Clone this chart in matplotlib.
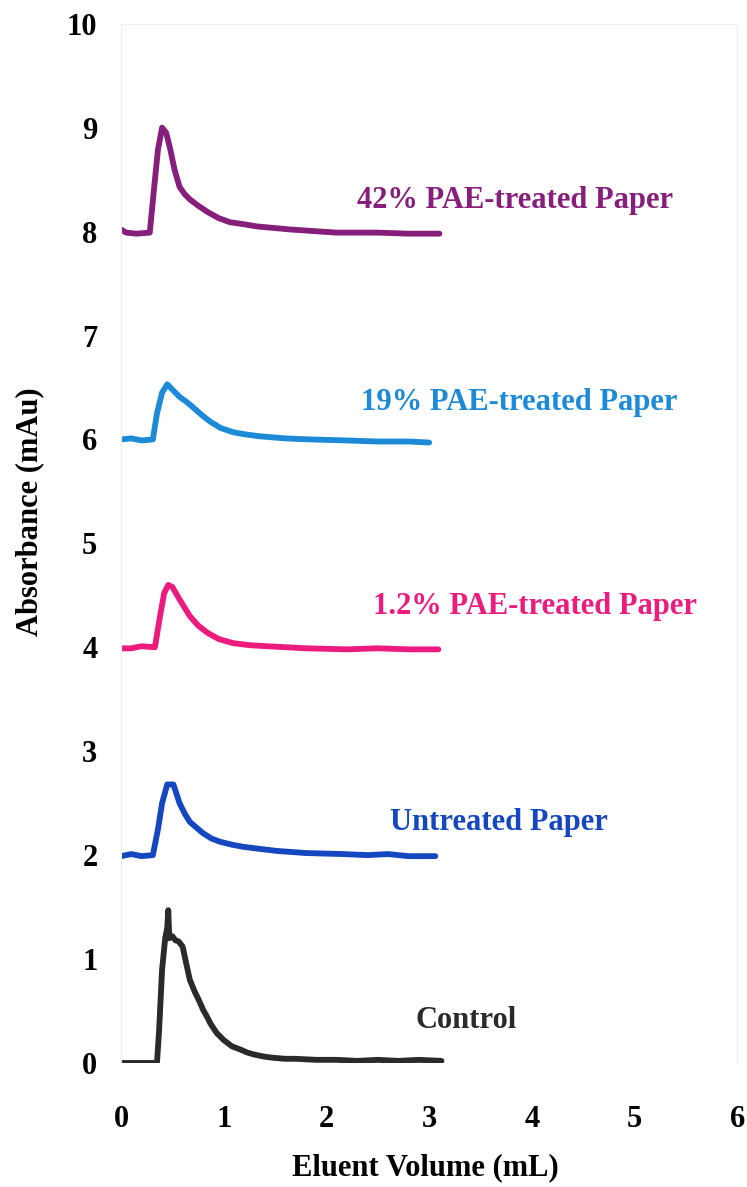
import matplotlib
matplotlib.use("Agg")
import matplotlib.pyplot as plt

plt.rcParams['font.family'] = ['Liberation Serif', 'DejaVu Serif']
plt.rcParams['font.weight'] = 'bold'

# Control
ctrl_x = [0.0, 0.35, 0.37, 0.40, 0.43, 0.45, 0.46, 0.47, 0.50, 0.53, 0.56, 0.60, 0.63,
          0.67, 0.72, 0.76, 0.80, 0.84, 0.87, 0.93, 1.00, 1.08, 1.16, 1.23, 1.30, 1.40,
          1.48, 1.60, 1.70, 1.90, 2.10, 2.30, 2.50, 2.70, 2.90, 3.12]
ctrl_y = [0.0, 0.0, 0.30, 0.90, 1.20, 1.30, 1.47, 1.20, 1.22, 1.18, 1.17, 1.12, 0.98,
          0.80, 0.68, 0.60, 0.51, 0.44, 0.38, 0.29, 0.22, 0.16, 0.13, 0.10, 0.08, 0.06,
          0.05, 0.04, 0.04, 0.03, 0.03, 0.02, 0.03, 0.02, 0.03, 0.02]

# Untreated Paper
untr_x = [0.0, 0.10, 0.20, 0.31, 0.36, 0.40, 0.45, 0.51, 0.57, 0.62, 0.67, 0.74, 0.80,
          0.88, 0.96, 1.08, 1.19, 1.35, 1.52, 1.80, 2.16, 2.40, 2.60, 2.80, 3.06]
untr_y = [1.99, 2.01, 1.99, 2.00, 2.25, 2.50, 2.68, 2.68, 2.50, 2.40, 2.32, 2.26, 2.21,
          2.16, 2.13, 2.10, 2.08, 2.06, 2.04, 2.02, 2.01, 2.00, 2.01, 1.99, 1.99]

# 1.2% PAE-treated Paper
p12_x = [0.0, 0.10, 0.20, 0.33, 0.38, 0.42, 0.46, 0.50, 0.57, 0.62, 0.67, 0.75, 0.84,
         0.95, 1.09, 1.25, 1.42, 1.80, 2.20, 2.50, 2.80, 3.09]
p12_y = [3.99, 3.99, 4.01, 4.00, 4.30, 4.52, 4.60, 4.58, 4.46, 4.38, 4.30, 4.21, 4.14,
         4.08, 4.04, 4.02, 4.01, 3.99, 3.98, 3.99, 3.98, 3.98]

# 19% PAE-treated Paper
p19_x = [0.0, 0.10, 0.20, 0.31, 0.35, 0.40, 0.45, 0.51, 0.57, 0.64, 0.70, 0.78, 0.87,
         0.97, 1.09, 1.20, 1.35, 1.60, 1.84, 2.20, 2.50, 2.80, 3.00]
p19_y = [6.00, 6.01, 5.99, 6.00, 6.25, 6.45, 6.53, 6.47, 6.41, 6.36, 6.31, 6.24, 6.17,
         6.11, 6.07, 6.05, 6.03, 6.01, 6.00, 5.99, 5.98, 5.98, 5.97]

# 42% PAE-treated Paper
p42_x = [0.0, 0.05, 0.15, 0.28, 0.32, 0.36, 0.40, 0.44, 0.48, 0.52, 0.57, 0.62, 0.67,
         0.75, 0.84, 0.95, 1.06, 1.20, 1.32, 1.65, 2.10, 2.50, 2.80, 3.10]
p42_y = [8.02, 7.99, 7.98, 7.99, 8.40, 8.79, 9.00, 8.95, 8.79, 8.60, 8.43, 8.36, 8.31,
         8.25, 8.19, 8.13, 8.09, 8.07, 8.05, 8.02, 7.99, 7.99, 7.98, 7.98]

series = [
    (ctrl_x, ctrl_y, '#2a2a2a', 'Control', 2.87, 0.41),
    (untr_x, untr_y, '#1447c0', 'Untreated Paper', 2.62, 2.31),
    (p12_x, p12_y, '#ec1c7e', '1.2% PAE-treated Paper', 2.45, 4.39),
    (p19_x, p19_y, '#1c8ad6', '19% PAE-treated Paper', 2.34, 6.36),
    (p42_x, p42_y, '#861f7c', '42% PAE-treated Paper', 2.30, 8.30),
]

fig = plt.figure(figsize=(7.47, 11.87), dpi=100)
ax = fig.add_axes([0.162, 0.1045, 0.825, 0.8755])

for x, y, color, label, tx, ty in series:
    ax.plot(x, y, color=color, lw=4.2, solid_joinstyle='round', solid_capstyle='round')
    ax.text(tx, ty, label, color=color, fontsize=22, fontweight='bold', va='center', ha='left')

ax.set_xlim(0, 6)
ax.set_ylim(0, 10)
ax.set_xticks(range(0, 7))
ax.set_yticks(range(0, 11))
ax.tick_params(axis='both', length=0, labelsize=22)
ax.tick_params(axis='x', pad=30)
ax.tick_params(axis='y', pad=17)
for s in ax.spines.values():
    s.set_color('#eeeeee')
    s.set_linewidth(0.8)
ax.spines['bottom'].set_visible(False)

fig.text(0.569, 0.016, 'Eluent Volume (mL)', fontsize=22, fontweight='bold',
         ha='center', va='center')
fig.text(0.040, 0.569, 'Absorbance (mAu)', fontsize=22, fontweight='bold',
         ha='center', va='center', rotation=90)

fig.savefig('out.png', dpi=100)
